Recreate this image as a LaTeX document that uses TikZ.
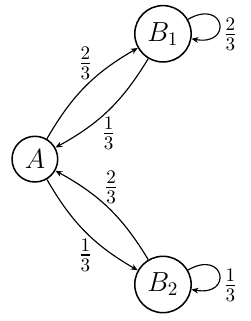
\documentclass[tikz,border=0pt]{standalone}
\usepackage{amsmath}
\usetikzlibrary{positioning, arrows.meta}

\begin{document}
\begin{tikzpicture}[
  font=\Large,
  >={Stealth[length=3.6pt, width=3pt]},
  state/.style={draw, circle, thick},
  trans/.style={->, semithick},
  self/.style={->, semithick, out=30, in=-10, looseness=5.5},
  node distance=2.3cm and 2.35cm, on grid,
]
  \useasboundingbox (0,0) rectangle (4.59,-5.89);
  \node[state] (A) at (0.64,-2.92) {$A$};
  \node[state, above right=of A] (B1) {$B_1$};
  \node[state, below right=of A] (B2) {$B_2$};

  \draw[trans] (A) to[bend left=15] node[above]{$\frac{2}{3}$} (B1);
  \draw[trans] (B1) to[bend left=15] node[below]{$\frac{1}{3}$} (A);
  \draw[trans] (A) to[bend right=15] node[below]{$\frac{1}{3}$} (B2);
  \draw[trans] (B2) to[bend right=15] node[above, pos=0.47]{$\frac{2}{3}$} (A);
  \draw[self] (B1) to node[right, pos=0.6, yshift=-1mm, inner sep=2pt]{$\frac{2}{3}$} (B1);
  \draw[self] (B2) to node[right, pos=0.6, yshift=-1mm, inner sep=2pt]{$\frac{1}{3}$} (B2);
\end{tikzpicture}
\end{document}
